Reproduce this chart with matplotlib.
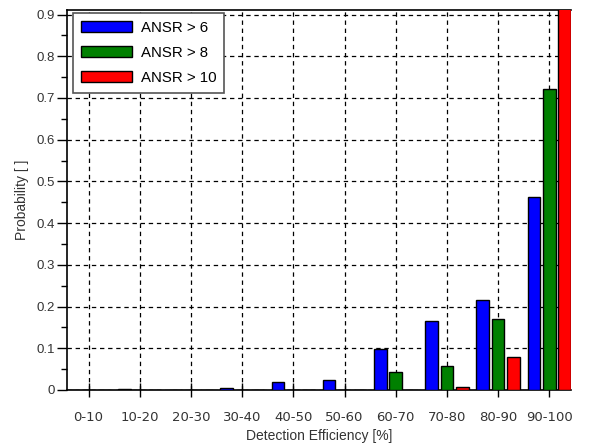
import numpy as np
import matplotlib.pyplot as plt
from matplotlib.ticker import MultipleLocator, FuncFormatter

categories = ['0-10', '10-20', '20-30', '30-40', '40-50', '50-60',
              '60-70', '70-80', '80-90', '90-100']
ansr6 = [0.0, 0.002, 0.0, 0.005, 0.018, 0.025, 0.098, 0.165, 0.215, 0.463]
ansr8 = [0.0, 0.0, 0.0, 0.0, 0.0, 0.001, 0.044, 0.058, 0.170, 0.721]
ansr10 = [0.0, 0.0, 0.0, 0.0, 0.0, 0.0, 0.0, 0.007, 0.078, 0.93]

x = np.arange(len(categories))
w = 0.245
off = 0.30

fig = plt.figure(figsize=(5.92, 4.45), dpi=100)
ax = fig.add_axes([0.1132, 0.1236, 0.851, 0.854])

ax.bar(x - off, ansr6, w, color='#0000ff', edgecolor='black', linewidth=1, label='ANSR > 6', zorder=3)
ax.bar(x, ansr8, w, color='#008000', edgecolor='black', linewidth=1, label='ANSR > 8', zorder=3)
ax.bar(x + off, ansr10, w, color='#ff0000', edgecolor='black', linewidth=1, label='ANSR > 10', zorder=3)

ax.set_xlim(-0.42, 9.42)
ax.set_ylim(0, 0.911)
ax.set_xticks(x)
ax.set_xticklabels(categories, fontfamily='DejaVu Sans', fontsize=9.5)
ax.yaxis.set_major_locator(MultipleLocator(0.1))
ax.yaxis.set_minor_locator(MultipleLocator(0.05))
ax.yaxis.set_major_formatter(FuncFormatter(lambda v, p: '0' if abs(v) < 1e-9 else f'{v:.1f}'))

ax.grid(True, color='black', linestyle=(0, (3.5, 3)), linewidth=0.9, zorder=0)
ax.set_axisbelow(True)

ax.spines['right'].set_visible(False)
for s in ['left', 'bottom', 'top']:
    ax.spines[s].set_linewidth(1.2)

ax.tick_params(axis='y', which='major', length=7, width=1, labelsize=9.5, pad=2)
ax.tick_params(axis='y', which='minor', length=4, width=1)
ax.tick_params(axis='x', which='major', direction='inout', length=10, width=1, pad=10)
for lab in ax.get_yticklabels():
    lab.set_fontfamily('Liberation Sans')
for lab in ax.get_xticklabels() + ax.get_yticklabels():
    lab.set_color('#333333')

ax.set_xlabel('Detection Efficiency [%]', fontsize=10, color='#333333',
              fontfamily='Liberation Sans', labelpad=4)
ax.set_ylabel('Probability [ ]', fontsize=10, color='#333333',
              fontfamily='Liberation Sans', labelpad=5)

leg = ax.legend(loc='upper left', bbox_to_anchor=(0.012, 0.992), borderaxespad=0,
                prop={'family': 'Liberation Sans', 'size': 10.8},
                handlelength=3.4, handleheight=0.75, handletextpad=0.6,
                borderpad=0.5, labelspacing=0.75, fancybox=False, framealpha=1)
leg.get_frame().set_edgecolor('#555555')
leg.get_frame().set_linewidth(1.2)

fig.savefig('out.png', dpi=100)
